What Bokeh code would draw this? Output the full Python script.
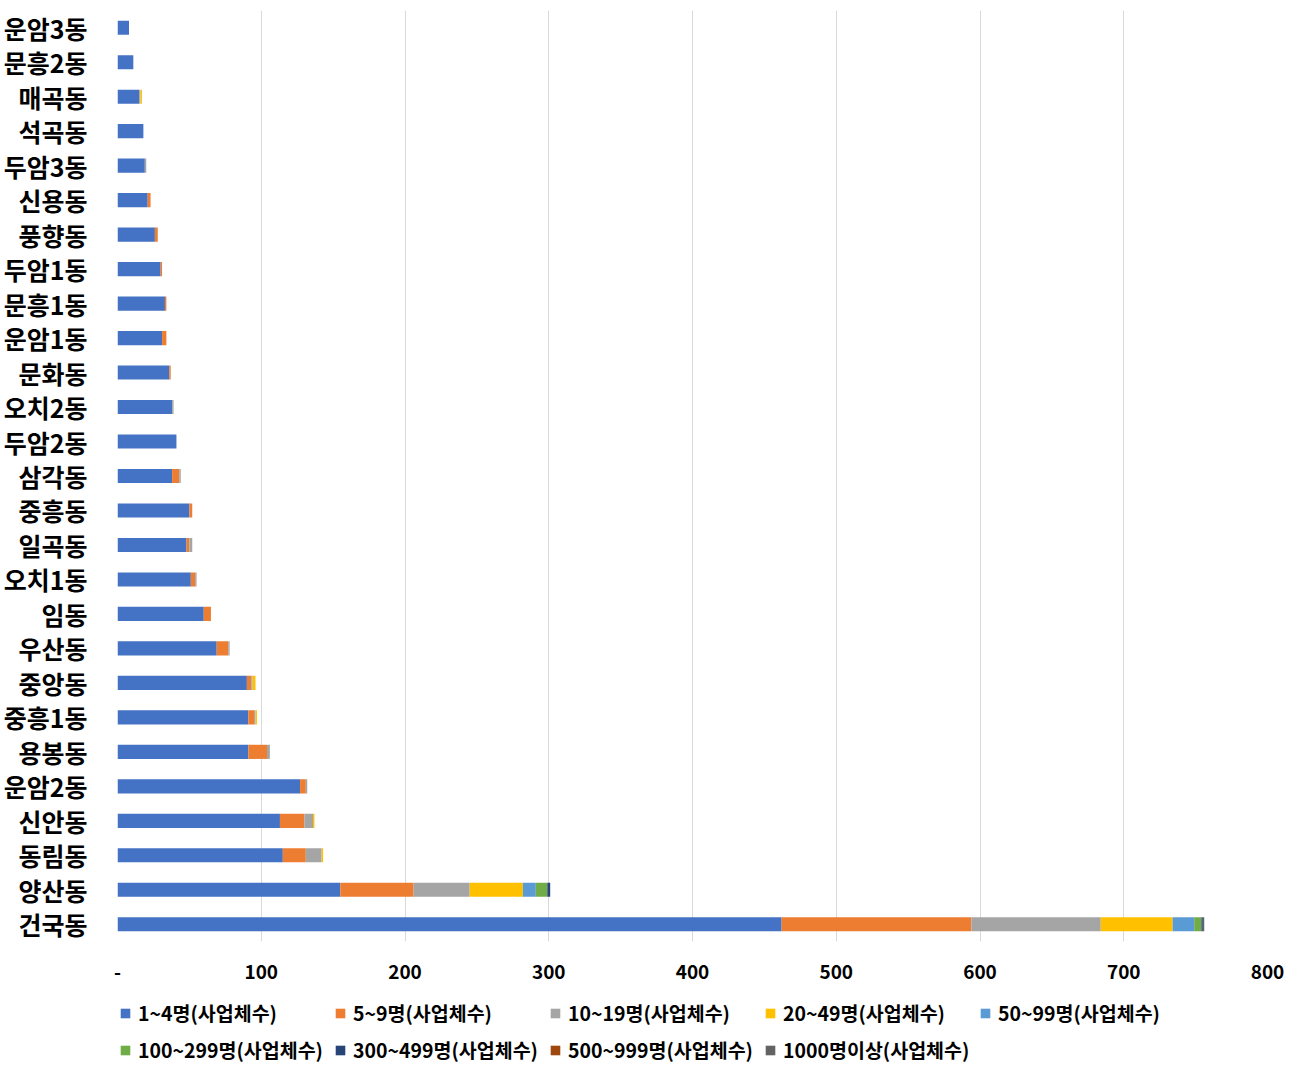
from bokeh.plotting import figure
from bokeh.layouts import column
from bokeh.models import ColumnDataSource, Legend, LegendItem, FactorRange
from bokeh.embed import file_html
from bokeh.resources import INLINE

# categories (top to bottom)
dongs = ["운암3동", "문흥2동", "매곡동", "석곡동", "두암3동", "신용동", "풍향동", "두암1동",
         "문흥1동", "운암1동", "문화동", "오치2동", "두암2동", "삼각동", "중흥동", "일곡동",
         "오치1동", "임동", "우산동", "중앙동", "중흥1동", "용봉동", "운암2동", "신안동",
         "동림동", "양산동", "건국동"]

s1_4     = [8, 11, 15, 18, 19, 21, 26, 30, 33, 31, 36, 38, 41, 38, 50, 48, 51, 60, 69, 90, 91, 91, 127, 113, 115, 155, 462]
s5_9     = [0, 0, 0, 0, 0, 2, 2, 1, 1, 3, 1, 0, 0, 5, 2, 2, 3, 5, 8, 3, 4, 13, 4, 17, 16, 51, 132]
s10_19   = [0, 0, 1, 0, 1, 0, 0, 0, 0, 0, 0, 1, 0, 1, 0, 2, 1, 0, 1, 1, 1, 2, 1, 6, 11, 39, 90]
s20_49   = [0, 0, 1, 0, 0, 0, 0, 0, 0, 0, 0, 0, 0, 0, 0, 0, 0, 0, 0, 2, 1, 0, 0, 1, 1, 37, 50]
s50_99   = [0, 0, 0, 0, 0, 0, 0, 0, 0, 0, 0, 0, 0, 0, 0, 0, 0, 0, 0, 0, 0, 0, 0, 0, 0, 9, 15]
s100_299 = [0, 0, 0, 0, 0, 0, 0, 0, 0, 0, 0, 0, 0, 0, 0, 0, 0, 0, 0, 0, 0, 0, 0, 0, 0, 8, 5]
s300_499 = [0, 0, 0, 0, 0, 0, 0, 0, 0, 0, 0, 0, 0, 0, 0, 0, 0, 0, 0, 0, 0, 0, 0, 0, 0, 2, 1]
s500_999 = [0, 0, 0, 0, 0, 0, 0, 0, 0, 0, 0, 0, 0, 0, 0, 0, 0, 0, 0, 0, 0, 0, 0, 0, 0, 0, 0]
s1000    = [0, 0, 0, 0, 0, 0, 0, 0, 0, 0, 0, 0, 0, 0, 0, 0, 0, 0, 0, 0, 0, 0, 0, 0, 0, 0, 1]

series_names = ["1~4명(사업체수)", "5~9명(사업체수)", "10~19명(사업체수)", "20~49명(사업체수)",
                "50~99명(사업체수)", "100~299명(사업체수)", "300~499명(사업체수)",
                "500~999명(사업체수)", "1000명이상(사업체수)"]
series_keys = ["s1_4", "s5_9", "s10_19", "s20_49", "s50_99", "s100_299", "s300_499", "s500_999", "s1000"]
colors = ["#4472C4", "#ED7D31", "#A5A5A5", "#FFC000", "#5B9BD5", "#70AD47", "#264478", "#9E480E", "#636363"]

x_ticks = [0, 100, 200, 300, 400, 500, 600, 700, 800]

data = {"dong": dongs, "s1_4": s1_4, "s5_9": s5_9, "s10_19": s10_19, "s20_49": s20_49,
        "s50_99": s50_99, "s100_299": s100_299, "s300_499": s300_499,
        "s500_999": s500_999, "s1000": s1000}
source = ColumnDataSource(data)

FONT = "Noto Sans CJK KR"

p = figure(width=1290, height=990, output_backend="svg", toolbar_location=None,
           y_range=FactorRange(*list(reversed(dongs)), range_padding=0),
           x_range=(0, 800))
p.min_border_left = 117
p.min_border_right = 23
p.min_border_top = 10
p.min_border_bottom = 49
p.outline_line_color = None

p.hbar_stack(series_keys, y="dong", height=0.41, color=colors, source=source, line_color=None)

p.xaxis.ticker = x_ticks
p.xaxis.major_label_overrides = {0: "-"}
p.xaxis.axis_line_color = None
p.xaxis.major_tick_line_color = None
p.xaxis.minor_tick_line_color = None
p.xaxis.major_label_text_font = FONT
p.xaxis.major_label_text_font_size = "19px"
p.xaxis.major_label_text_font_style = "bold"
p.xaxis.major_label_text_color = "#000000"
p.xaxis.major_label_standoff = 17

p.yaxis.axis_line_color = None
p.yaxis.major_tick_line_color = None
p.yaxis.minor_tick_line_color = None
p.yaxis.major_label_text_font = FONT
p.yaxis.major_label_text_font_size = "25px"
p.yaxis.major_label_text_font_style = "bold"
p.yaxis.major_label_text_color = "#000000"
p.yaxis.major_label_standoff = 24

p.xgrid.grid_line_color = "#D9D9D9"
p.xgrid.grid_line_width = 1
p.ygrid.grid_line_color = None

# legend strip: same stacked series, hidden renderers (legend swatches only)
lg = figure(width=1290, height=80, output_backend="svg", toolbar_location=None,
            x_axis_type=None, y_axis_type=None, x_range=(-2, -1),
            y_range=FactorRange(*dongs))
lg.min_border = 0
lg.min_border_left = 117
lg.min_border_right = 23
lg.outline_line_color = None
lg.xgrid.visible = False
lg.ygrid.visible = False
lg_renderers = lg.hbar_stack(series_keys, y="dong", height=0.41, color=colors, source=source,
                             line_color=None)
for r in lg_renderers:
    r.visible = False
items = [LegendItem(label=n, renderers=[r]) for n, r in zip(series_names, lg_renderers)]
legend = Legend(items=items, ncols=5, orientation="horizontal", location=(2, 2),
                glyph_width=12, glyph_height=12, label_standoff=7, spacing=0,
                label_width=196, label_height=37, padding=0, margin=0,
                border_line_color=None, background_fill_alpha=0,
                inactive_fill_alpha=0,
                label_text_font=FONT, label_text_font_size="19.5px",
                label_text_font_style="bold", label_text_color="#000000")
lg.add_layout(legend, "center")

layout = column(p, lg, spacing=0)
open("out.html", "w").write(file_html(layout, INLINE))
